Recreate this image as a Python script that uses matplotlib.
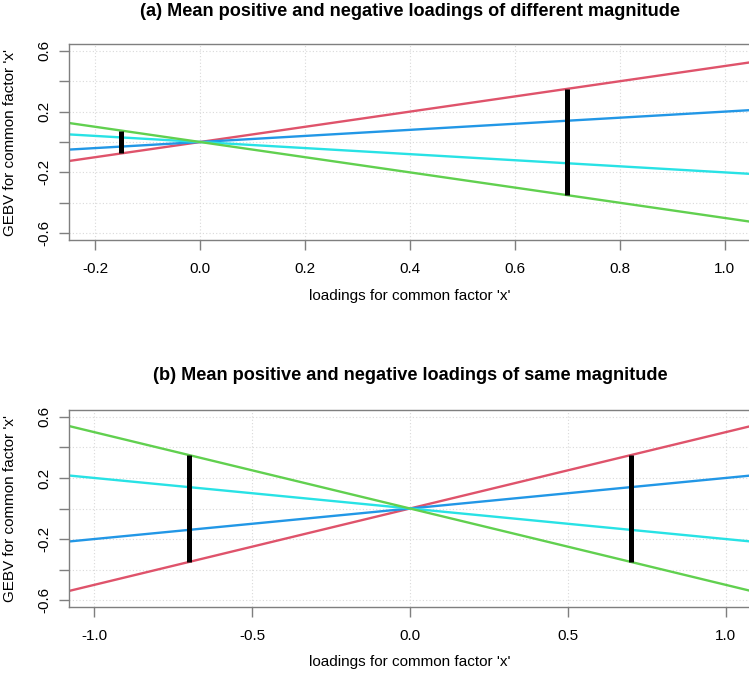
import matplotlib
matplotlib.use("Agg")
import matplotlib.pyplot as plt
import numpy as np

plt.rcParams['font.family'] = ['Liberation Sans', 'DejaVu Sans']

# Data
series_colors = ["#DF536B", "#2297E6", "#28E2E5", "#61D04F"]
slopes = [0.5, 0.2, -0.2, -0.5]

seg_a_x = [0.7, -0.15]
seg_a_lo = [-0.35, -0.075]
seg_a_hi = [0.35, 0.075]

seg_b_x = [-0.7, 0.7]
seg_b_lo = [-0.35, -0.35]
seg_b_hi = [0.35, 0.35]

xticks_a = [-0.2, 0.0, 0.2, 0.4, 0.6, 0.8, 1.0]
xticks_b = [-1.0, -0.5, 0.0, 0.5, 1.0]
yticks = [-0.6, -0.4, -0.2, 0.0, 0.2, 0.4, 0.6]
ylabels = ["-0.6", "", "-0.2", "", "0.2", "", "0.6"]

titles = ["(a) Mean positive and negative loadings of different magnitude",
          "(b) Mean positive and negative loadings of same magnitude"]
xlabel = "loadings for common factor 'x'"
ylabel = "GEBV for common factor 'x'"

W, H = 749, 681
fig = plt.figure(figsize=(W/100, H/100), dpi=100)

def make_axes(top, bottom, left=69, right=751):
    return fig.add_axes([left/W, 1-bottom/H, (right-left)/W, (bottom-top)/H])

panels = [
    dict(ax=make_axes(44, 240), xlim=(-0.25, 1.05), xticks=xticks_a,
         xtl=["-0.2", "0.0", "0.2", "0.4", "0.6", "0.8", "1.0"],
         segx=seg_a_x, seglo=seg_a_lo, seghi=seg_a_hi, title=titles[0], ty=12, xly=296),
    dict(ax=make_axes(410, 607), xlim=(-1.08, 1.08), xticks=xticks_b,
         xtl=["-1.0", "-0.5", "0.0", "0.5", "1.0"],
         segx=seg_b_x, seglo=seg_b_lo, seghi=seg_b_hi, title=titles[1], ty=376, xly=662),
]

for p in panels:
    ax = p['ax']
    ax.set_xlim(*p['xlim'])
    ax.set_ylim(-0.645, 0.645)
    ax.set_xticks(p['xticks'])
    ax.set_xticklabels(p['xtl'])
    ax.set_yticks(yticks)
    ax.set_yticklabels(ylabels, rotation=90, va='center')
    ax.grid(True, color='#d9d9d9', linestyle=(0, (1, 2)), linewidth=0.8)
    ax.set_axisbelow(True)
    for s in ax.spines.values():
        s.set_color('#7f7f7f')
        s.set_linewidth(1.0)
    ax.tick_params(axis='both', colors='#7f7f7f', length=7, width=1.0,
                   labelcolor='black', labelsize=11)
    ax.tick_params(axis='x', pad=9)
    ax.tick_params(axis='y', pad=6)
    for c, s in zip(series_colors, slopes):
        ax.axline((0, 0), slope=s, color=c, linewidth=1.7)
    ax.vlines(p['segx'], p['seglo'], p['seghi'], colors='black', linewidth=3.6, zorder=5)
    fig.text(410/W, 1-p['ty']/H, p['title'], ha='center', va='center',
             fontsize=13.1, fontweight='bold')
    fig.text(410/W, 1-p['xly']/H, xlabel, ha='center', va='center', fontsize=11)
    axc = (p['ax'].get_position().y0 + p['ax'].get_position().y1) / 2
    fig.text(10/W, axc, ylabel, rotation=90, ha='center', va='center', fontsize=11)

fig.savefig("out.png", dpi=100)
